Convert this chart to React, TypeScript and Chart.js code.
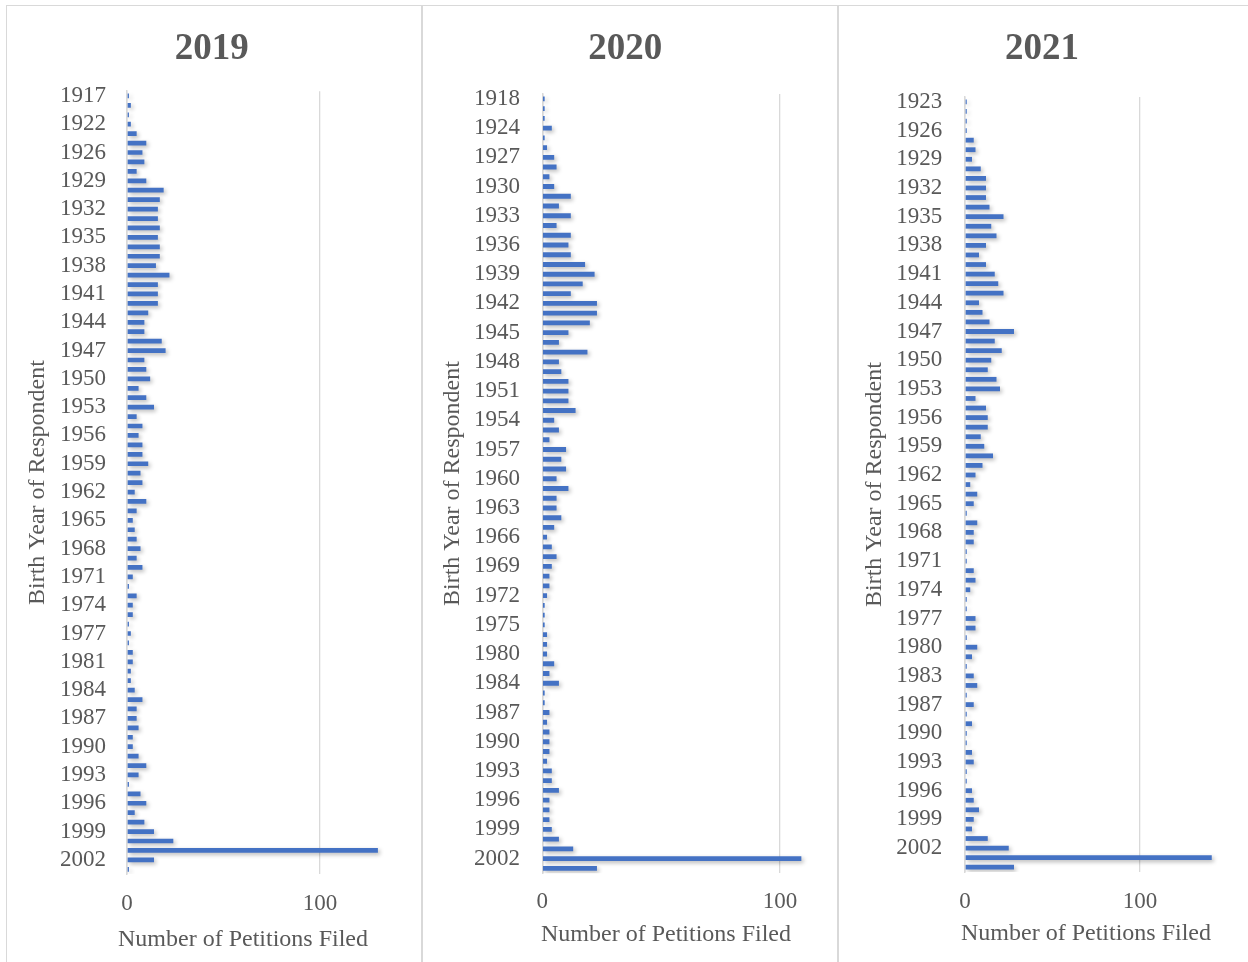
import React, { useEffect, useRef } from 'react';
import { Chart, registerables } from 'chart.js';

Chart.register(...registerables);

const FONT = "'Liberation Serif', 'Times New Roman', serif";
const TEXT = '#595959';
const BAR = '#4472C4';
const GRID = '#d9d9d9';

const yAxisTitle = 'Birth Year of Respondent';
const xAxisTitle = 'Number of Petitions Filed';
const xTickValues = [0, 100];

const years2019 = [
  '1917', '1919', '1920', '1922', '1923', '1925',
  '1926', '1927', '1928', '1929', '1930', '1931', '1932', '1933', '1934', '1935',
  '1936', '1937', '1938', '1939', '1940', '1941', '1942', '1943', '1944', '1945',
  '1946', '1947', '1948', '1949', '1950', '1951', '1952', '1953', '1954', '1955',
  '1956', '1957', '1958', '1959', '1960', '1961', '1962', '1963', '1964', '1965',
  '1966', '1967', '1968', '1969', '1970', '1971', '1972', '1973', '1974', '1975',
  '1976', '1977', '1978', '1980',
  '1981', '1982', '1983', '1984', '1985', '1986', '1987', '1988', '1989', '1990',
  '1991', '1992', '1993', '1994', '1995', '1996', '1997', '1998', '1999', '2000',
  '2001', '2002', '2003',
];
const petitions2019 = [
  1, 2, 1, 2, 5, 10, 8, 9, 5, 10,
  19, 17, 16, 16, 17, 16, 17, 17, 15, 22,
  16, 16, 16, 11, 9, 9, 18, 20, 9, 10,
  12, 6, 10, 14, 5, 8, 6, 8, 8, 11,
  7, 8, 4, 10, 5, 3, 4, 5, 7, 5,
  8, 3, 1, 5, 3, 3, 1, 2, 1, 3,
  3, 2, 2, 4, 8, 5, 5, 6, 3, 3,
  6, 10, 6, 1, 7, 10, 4, 9, 14, 24,
  130, 14, 1,
];

const years2020 = [
  '1918', '1920', '1922',
  '1924', '1925', '1926', '1927', '1928', '1929', '1930', '1931', '1932', '1933',
  '1934', '1935', '1936', '1937', '1938', '1939', '1940', '1941', '1942', '1943',
  '1944', '1945', '1946', '1947', '1948', '1949', '1950', '1951', '1952', '1953',
  '1954', '1955', '1956', '1957', '1958', '1959', '1960', '1961', '1962', '1963',
  '1964', '1965', '1966', '1967', '1968', '1969', '1970', '1971', '1972', '1973',
  '1974', '1975', '1977', '1978', '1980', '1981', '1983',
  '1984', '1985', '1986', '1987', '1988', '1989', '1990', '1991', '1992', '1993',
  '1994', '1995', '1996', '1997', '1998', '1999', '2000', '2001', '2002', '2003',
];
const petitions2020 = [
  1, 1, 1, 4, 1, 2, 5, 6, 3, 5,
  12, 7, 12, 6, 12, 11, 12, 18, 22, 17,
  12, 23, 23, 20, 11, 7, 19, 7, 8, 11,
  11, 11, 14, 5, 7, 3, 10, 8, 10, 6,
  11, 6, 6, 8, 5, 2, 4, 6, 4, 3,
  3, 2, 1, 1, 1, 2, 2, 2, 5, 3,
  7, 1, 1, 3, 2, 3, 3, 3, 2, 4,
  4, 7, 3, 3, 3, 4, 7, 13, 109, 23,
];

const years2021 = [
  '1923', '1924', '1925', '1926', '1927', '1928', '1929', '1930', '1931', '1932',
  '1933', '1934', '1935', '1936', '1937', '1938', '1939', '1940', '1941', '1942',
  '1943', '1944', '1945', '1946', '1947', '1948', '1949', '1950', '1951', '1952',
  '1953', '1954', '1955', '1956', '1957', '1958', '1959', '1960', '1961', '1962',
  '1963', '1964', '1965', '1966', '1967', '1968', '1969', '1970', '1971', '1972',
  '1973', '1974', '1975', '1976', '1977', '1978', '1979', '1980', '1981', '1982',
  '1983', '1984', '1986',
  '1987', '1988', '1989', '1990', '1991', '1992', '1993', '1994', '1995', '1996',
  '1997', '1998', '1999', '2000', '2001', '2002', '2003', '2004',
];
const petitions2021 = [
  1, 1, 1, 1, 5, 6, 4, 9, 12, 12,
  12, 14, 22, 15, 18, 12, 8, 12, 17, 19,
  22, 8, 10, 14, 28, 17, 21, 15, 13, 18,
  20, 6, 12, 13, 13, 9, 11, 16, 10, 6,
  3, 7, 5, 1, 7, 5, 5, 1, 1, 5,
  6, 3, 1, 1, 6, 6, 1, 7, 4, 1,
  5, 7, 1, 5, 1, 4, 1, 1, 4, 5,
  1, 1, 4, 5, 8, 5, 4, 13, 25, 141,
  28,
];

type PanelCfg = {
  title: string;
  years: string[];
  values: number[];
  boxLeft: number;
  left: number;
  max: number;
  padRight: number;
  yWidth: number;
  yTickPad: number;
  yTitlePad: number;
  titlePadBottom: number;
  xHeight: number;
  xTickPad: number;
  xTitleX: number;
  xTitleY: number;
};

const panels: PanelCfg[] = [
  {
    title: '2019', years: years2019, values: petitions2019,
    boxLeft: 6, left: 7, max: 150, padRight: 5.5, yWidth: 120, yTickPad: 21, yTitlePad: 16.6,
    titlePadBottom: 19.3, xHeight: 88, xTickPad: 16, xTitleX: 236, xTitleY: 939.5,
  },
  {
    title: '2020', years: years2020, values: petitions2020,
    boxLeft: 422, left: 423, max: 120, padRight: 10.5, yWidth: 119.3, yTickPad: 22.3, yTitlePad: 15.6,
    titlePadBottom: 22.1, xHeight: 88.8, xTickPad: 15.3, xTitleX: 243, xTitleY: 934.5,
  },
  {
    title: '2021', years: years2021, values: petitions2021,
    boxLeft: 838, left: 839, max: 160, padRight: 9, yWidth: 126, yTickPad: 22.7, yTitlePad: 21.6,
    titlePadBottom: 25.2, xHeight: 90, xTickPad: 16, xTitleX: 247, xTitleY: 933.5,
  },
];

const shadowPlugin = {
  id: 'barShadow',
  beforeDatasetsDraw(chart: any) {
    const ctx = chart.ctx;
    ctx.save();
    ctx.shadowColor = 'rgba(0,0,0,0.28)';
    ctx.shadowBlur = 4;
    ctx.shadowOffsetX = 2;
    ctx.shadowOffsetY = 2;
  },
  afterDatasetsDraw(chart: any) {
    chart.ctx.restore();
  },
};

function makeXTitlePlugin(x: number, y: number) {
  return {
    id: 'xAxisTitle',
    afterDraw(chart: any) {
      const ctx = chart.ctx;
      ctx.save();
      ctx.font = `24px ${FONT}`;
      ctx.fillStyle = TEXT;
      ctx.textAlign = 'center';
      ctx.textBaseline = 'middle';
      ctx.fillText(xAxisTitle, x, y);
      ctx.restore();
    },
  };
}

function Panel({ cfg }: { cfg: PanelCfg }) {
  const ref = useRef<HTMLCanvasElement>(null);
  useEffect(() => {
    const labels = cfg.years;
    const chart = new Chart(ref.current as HTMLCanvasElement, {
      type: 'bar',
      data: {
        labels,
        datasets: [
          {
            data: cfg.values,
            backgroundColor: BAR,
            borderWidth: 0,
            categoryPercentage: 1,
            barPercentage: 0.5,
          },
        ],
      },
      options: {
        indexAxis: 'y',
        responsive: false,
        animation: false,
        layout: { padding: { left: 0, right: cfg.padRight, top: 0, bottom: 0 } },
        plugins: {
          legend: { display: false },
          tooltip: { enabled: false },
          title: {
            display: true,
            text: cfg.title,
            color: TEXT,
            font: { family: FONT, size: 37, weight: 'bold', lineHeight: 1.2 },
            padding: { top: 27.5, bottom: cfg.titlePadBottom },
          },
        },
        scales: {
          x: {
            type: 'linear',
            position: 'bottom',
            min: 0,
            max: cfg.max,
            afterBuildTicks: (s: any) => {
              s.ticks = xTickValues.map((v) => ({ value: v }));
            },
            afterFit: (s: any) => {
              s.height = cfg.xHeight;
            },
            grid: { color: GRID, lineWidth: 1.3, drawTicks: false },
            border: { display: false },
            ticks: {
              color: TEXT,
              font: { family: FONT, size: 23, lineHeight: 1.2 },
              padding: cfg.xTickPad,
              maxRotation: 0,
            },
          },
          y: {
            type: 'category',
            position: 'left',
            offset: true,
            afterFit: (s: any) => {
              s.width = cfg.yWidth;
            },
            grid: { display: false, drawTicks: false },
            border: { display: true, color: GRID, width: 1.5 },
            ticks: {
              autoSkip: false,
              color: TEXT,
              font: { family: FONT, size: 23, lineHeight: 1.2 },
              padding: cfg.yTickPad,
              callback: (_v: any, i: number) => (i % 3 === 0 ? labels[i] : ''),
            },
            title: {
              display: true,
              text: yAxisTitle,
              color: TEXT,
              font: { family: FONT, size: 24, lineHeight: 1.2 },
              padding: { top: cfg.yTitlePad, bottom: 0 },
            },
          },
        },
      } as any,
      plugins: [shadowPlugin, makeXTitlePlugin(cfg.xTitleX, cfg.xTitleY)],
    });
    return () => chart.destroy();
  }, [cfg]);
  return (
    <canvas
      ref={ref}
      width={415}
      height={962}
      style={{ position: 'absolute', left: cfg.left, top: 0, width: 415, height: 962 }}
    />
  );
}

export default function App() {
  return (
    <div
      style={{
        position: 'fixed',
        left: 0,
        top: 0,
        width: 1248,
        height: 962,
        overflow: 'hidden',
        background: '#ffffff',
      }}
    >
      {panels.map((p) => (
        <div
          key={'box' + p.title}
          style={{
            position: 'absolute',
            left: p.boxLeft,
            top: 5,
            width: 416,
            height: 1000,
            border: `1.5px solid ${GRID}`,
            boxSizing: 'border-box',
          }}
        />
      ))}
      {panels.map((p) => (
        <Panel key={p.title} cfg={p} />
      ))}
    </div>
  );
}
